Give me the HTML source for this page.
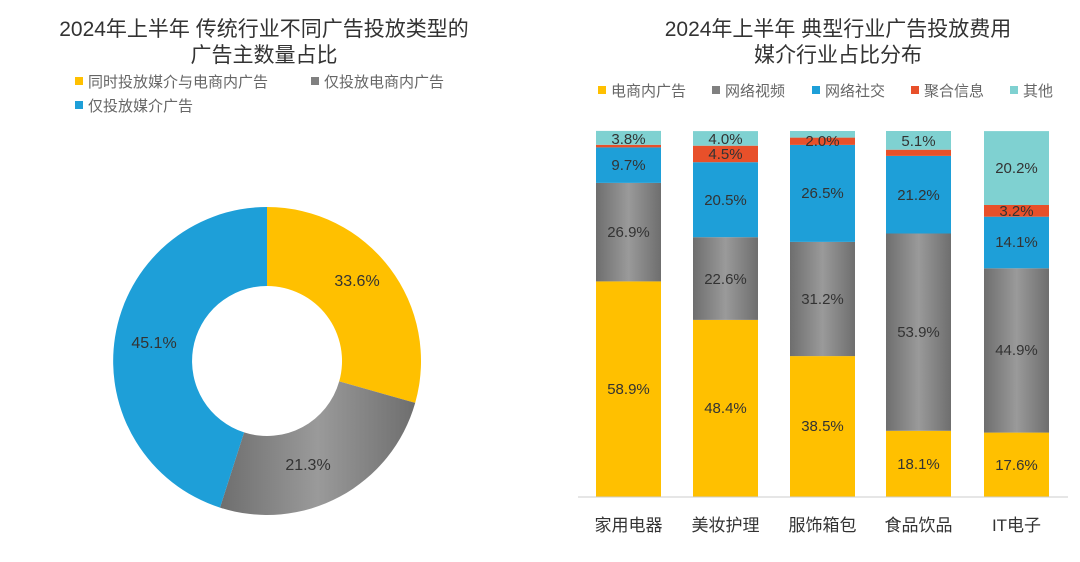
<!DOCTYPE html>
<html><head><meta charset="utf-8"><style>
body{margin:0;background:#fff;}
svg text{font-family:"Liberation Sans","Noto Sans CJK SC",sans-serif;}
</style></head><body>
<svg width="1080" height="557" viewBox="0 0 1080 557" xmlns="http://www.w3.org/2000/svg">
<defs>
<linearGradient id="gy" x1="0" x2="1"><stop offset="0" stop-color="#6e6e6e"/><stop offset="0.5" stop-color="#9a9a9a"/><stop offset="1" stop-color="#6e6e6e"/></linearGradient>
</defs>
<text x="264" y="36" font-size="21" text-anchor="middle" fill="#333">2024年上半年 传统行业不同广告投放类型的</text>
<text x="264" y="62" font-size="21" text-anchor="middle" fill="#333">广告主数量占比</text>
<rect x="75" y="77" width="8" height="8" fill="#FFC000"/><text x="88" y="87" font-size="15" fill="#666">同时投放媒介与电商内广告</text>
<rect x="311" y="77" width="8" height="8" fill="#808080"/><text x="324" y="87" font-size="15" fill="#666">仅投放电商内广告</text>
<rect x="75" y="101" width="8" height="8" fill="#1E9FD8"/><text x="88" y="111" font-size="15" fill="#666">仅投放媒介广告</text>
<text x="838" y="36" font-size="21" text-anchor="middle" fill="#333">2024年上半年 典型行业广告投放费用</text>
<text x="838" y="62" font-size="21" text-anchor="middle" fill="#333">媒介行业占比分布</text>
<g font-size="15" fill="#666">
<rect x="598" y="86" width="8" height="8" fill="#FFC000"/><text x="611" y="96">电商内广告</text>
<rect x="712" y="86" width="8" height="8" fill="#808080"/><text x="725" y="96">网络视频</text>
<rect x="812" y="86" width="8" height="8" fill="#1E9FD8"/><text x="825" y="96">网络社交</text>
<rect x="911" y="86" width="8" height="8" fill="#E8502A"/><text x="924" y="96">聚合信息</text>
<rect x="1010" y="86" width="8" height="8" fill="#7FD1D1"/><text x="1023" y="96">其他</text>
</g>
<path d="M267 207 A154 154 0 0 1 415.2 402.9 L339.2 381.4 A75 75 0 0 0 267 286 Z" fill="#FFC000"/>
<path d="M415.2 402.9 A154 154 0 0 1 220.0 507.6 L244.1 432.4 A75 75 0 0 0 339.2 381.4 Z" fill="url(#gy)"/>
<path d="M220.0 507.6 A154 154 0 0 1 267 207 L267 286 A75 75 0 0 0 244.1 432.4 Z" fill="#1E9FD8"/>
<g font-size="16" fill="#333" text-anchor="middle">
<text x="357" y="286">33.6%</text><text x="308" y="470">21.3%</text><text x="154" y="348">45.1%</text>
</g>
<!-- bars -->
<g>
<rect x="596" y="281.4" width="65" height="215.6" fill="#FFC000"/>
<rect x="596" y="182.9" width="65" height="98.5" fill="url(#gy)"/>
<rect x="596" y="147.4" width="65" height="35.5" fill="#1E9FD8"/>
<rect x="596" y="144.8" width="65" height="2.6" fill="#E8502A"/>
<rect x="596" y="130.9" width="65" height="13.9" fill="#7FD1D1"/>

<rect x="693" y="319.9" width="65" height="177.1" fill="#FFC000"/>
<rect x="693" y="237.2" width="65" height="82.7" fill="url(#gy)"/>
<rect x="693" y="162.2" width="65" height="75" fill="#1E9FD8"/>
<rect x="693" y="145.7" width="65" height="16.5" fill="#E8502A"/>
<rect x="693" y="131.1" width="65" height="14.6" fill="#7FD1D1"/>

<rect x="790" y="356.1" width="65" height="140.9" fill="#FFC000"/>
<rect x="790" y="241.9" width="65" height="114.2" fill="url(#gy)"/>
<rect x="790" y="144.9" width="65" height="97" fill="#1E9FD8"/>
<rect x="790" y="137.6" width="65" height="7.3" fill="#E8502A"/>
<rect x="790" y="131" width="65" height="6.6" fill="#7FD1D1"/>

<rect x="886" y="430.8" width="65" height="66.2" fill="#FFC000"/>
<rect x="886" y="233.5" width="65" height="197.3" fill="url(#gy)"/>
<rect x="886" y="155.9" width="65" height="77.6" fill="#1E9FD8"/>
<rect x="886" y="149.7" width="65" height="6.2" fill="#E8502A"/>
<rect x="886" y="131" width="65" height="18.7" fill="#7FD1D1"/>

<rect x="984" y="432.6" width="65" height="64.4" fill="#FFC000"/>
<rect x="984" y="268.3" width="65" height="164.3" fill="url(#gy)"/>
<rect x="984" y="216.7" width="65" height="51.6" fill="#1E9FD8"/>
<rect x="984" y="205" width="65" height="11.7" fill="#E8502A"/>
<rect x="984" y="131.1" width="65" height="73.9" fill="#7FD1D1"/>
</g>
<line x1="578" y1="497" x2="1068" y2="497" stroke="#ccc"/>
<g font-size="15" fill="#333" text-anchor="middle">
<text x="628.5" y="144">3.8%</text><text x="628.5" y="170">9.7%</text><text x="628.5" y="237">26.9%</text><text x="628.5" y="394">58.9%</text>
<text x="725.5" y="144">4.0%</text><text x="725.5" y="159">4.5%</text><text x="725.5" y="205">20.5%</text><text x="725.5" y="284">22.6%</text><text x="725.5" y="413">48.4%</text>
<text x="822.5" y="146">2.0%</text><text x="822.5" y="198">26.5%</text><text x="822.5" y="304">31.2%</text><text x="822.5" y="431">38.5%</text>
<text x="918.5" y="146">5.1%</text><text x="918.5" y="200">21.2%</text><text x="918.5" y="337">53.9%</text><text x="918.5" y="469">18.1%</text>
<text x="1016.5" y="173">20.2%</text><text x="1016.5" y="216">3.2%</text><text x="1016.5" y="247">14.1%</text><text x="1016.5" y="355">44.9%</text><text x="1016.5" y="470">17.6%</text>
</g>
<g font-size="17" fill="#333" text-anchor="middle">
<text x="628.5" y="531">家用电器</text><text x="725.5" y="531">美妆护理</text><text x="822.5" y="531">服饰箱包</text><text x="918.5" y="531">食品饮品</text><text x="1016.5" y="531">IT电子</text>
</g>
</svg>
</body></html>
